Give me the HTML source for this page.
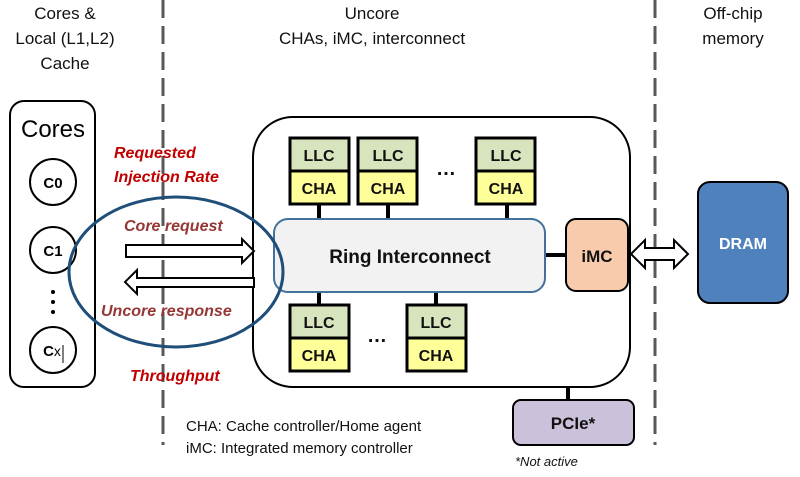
<!DOCTYPE html>
<html><head><style>
html,body{margin:0;padding:0;background:#fff;}
svg{display:block;}
text{font-family:"Liberation Sans","DejaVu Sans",sans-serif;}
</style></head><body>
<svg width="800" height="477" viewBox="0 0 800 477" xmlns="http://www.w3.org/2000/svg">
<line x1="163" y1="0" x2="163" y2="445" stroke="#595959" stroke-width="3" stroke-dasharray="18,8"/>
<line x1="655" y1="0" x2="655" y2="445" stroke="#595959" stroke-width="3" stroke-dasharray="18,8"/>
<g font-size="17" fill="#111" text-anchor="middle">
<text x="65" y="19">Cores &amp;</text>
<text x="65" y="44">Local (L1,L2)</text>
<text x="65" y="69">Cache</text>
<text x="372" y="19">Uncore</text>
<text x="372" y="44">CHAs, iMC, interconnect</text>
<text x="733" y="19">Off-chip</text>
<text x="733" y="44">memory</text>
</g>
<rect x="10" y="101" width="85" height="286" rx="14" fill="#fff" stroke="#000" stroke-width="2"/>
<text x="53" y="137" font-size="24" text-anchor="middle" fill="#000">Cores</text>
<g fill="#fff" stroke="#000" stroke-width="2">
<circle cx="53" cy="182" r="23"/>
<circle cx="53" cy="250" r="23"/>
<circle cx="53" cy="350" r="23"/>
</g>
<g font-size="15" font-weight="bold" text-anchor="middle" fill="#000">
<text x="53" y="188">C0</text>
<text x="53" y="256">C1</text>
<text x="52" y="356">C<tspan font-weight="normal" font-size="14">x</tspan></text>
</g>
<line x1="63" y1="345" x2="63" y2="363" stroke="#000" stroke-width="1"/>
<g fill="#000"><circle cx="53" cy="292" r="2"/><circle cx="53" cy="302" r="2"/><circle cx="53" cy="312" r="2"/></g>
<rect x="253" y="117" width="377" height="270" rx="40" fill="#fff" stroke="#000" stroke-width="2"/>
<g stroke="#000" stroke-width="4">
<line x1="319" y1="204" x2="319" y2="219"/>
<line x1="388" y1="204" x2="388" y2="219"/>
<line x1="507" y1="204" x2="507" y2="219"/>
<line x1="319" y1="292" x2="319" y2="305"/>
<line x1="436" y1="292" x2="436" y2="305"/>
<line x1="545" y1="255" x2="566" y2="255"/>
<line x1="568" y1="387" x2="568" y2="400"/>
</g>
<rect x="274" y="219" width="271" height="73" rx="14" fill="#f2f2f2" stroke="#41719c" stroke-width="2"/>
<text x="410" y="263" font-size="19" font-weight="bold" text-anchor="middle" fill="#111">Ring Interconnect</text>
<g stroke="#000" stroke-width="3">
<rect x="290" y="138" width="59" height="33" fill="#d7e4bd"/><rect x="290" y="171" width="59" height="33" fill="#ffff99"/>
<rect x="358" y="138" width="59" height="33" fill="#d7e4bd"/><rect x="358" y="171" width="59" height="33" fill="#ffff99"/>
<rect x="476" y="138" width="59" height="33" fill="#d7e4bd"/><rect x="476" y="171" width="59" height="33" fill="#ffff99"/>
<rect x="290" y="305" width="59" height="33" fill="#d7e4bd"/><rect x="290" y="338" width="59" height="33" fill="#ffff99"/>
<rect x="407" y="305" width="59" height="33" fill="#d7e4bd"/><rect x="407" y="338" width="59" height="33" fill="#ffff99"/>
</g>
<g font-size="16" font-weight="bold" text-anchor="middle" fill="#111">
<text x="319" y="161">LLC</text><text x="319" y="194">CHA</text>
<text x="388" y="161">LLC</text><text x="388" y="194">CHA</text>
<text x="506" y="161">LLC</text><text x="506" y="194">CHA</text>
<text x="319" y="328">LLC</text><text x="319" y="361">CHA</text>
<text x="436" y="328">LLC</text><text x="436" y="361">CHA</text>
<text x="446" y="175" font-size="20">…</text>
<text x="377" y="342" font-size="20">…</text>
</g>
<rect x="566" y="219" width="62" height="72" rx="10" fill="#f8cbad" stroke="#000" stroke-width="2"/>
<text x="597" y="262" font-size="17" font-weight="bold" text-anchor="middle" fill="#111">iMC</text>
<path d="M631,254 L645,240 L645,248 L674,248 L674,240 L688,254 L674,268 L674,260 L645,260 L645,268 Z" fill="#fff" stroke="#000" stroke-width="2"/>
<rect x="698" y="182" width="90" height="121" rx="12" fill="#4f81bd" stroke="#000" stroke-width="2"/>
<text x="743" y="249" font-size="16" font-weight="bold" text-anchor="middle" fill="#fff">DRAM</text>
<rect x="513" y="400" width="121" height="45" rx="8" fill="#ccc1da" stroke="#000" stroke-width="2"/>
<text x="573" y="429" font-size="17" font-weight="bold" text-anchor="middle" fill="#111">PCIe*</text>
<text x="515" y="466" font-size="13" font-style="italic" fill="#111">*Not active</text>
<text x="186" y="431" font-size="15" fill="#111">CHA: Cache controller/Home agent</text>
<text x="186" y="453" font-size="15" fill="#111">iMC: Integrated memory controller</text>
<path d="M126,245 L242,245 L242,239 L254,251 L242,263 L242,257 L126,257 Z" fill="#fff" stroke="#000" stroke-width="2"/>
<path d="M254,278 L137,278 L137,270 L125,282 L137,294 L137,287 L254,287 Z" fill="#fff" stroke="#000" stroke-width="2"/>
<ellipse cx="176" cy="272" rx="107" ry="75" fill="none" stroke="#1f4e79" stroke-width="3"/>
<g font-size="16" font-weight="bold" font-style="italic" fill="#c00000">
<text x="114" y="158">Requested</text>
<text x="114" y="182">Injection Rate</text>
<text x="130" y="381">Throughput</text>
</g>
<g font-size="16" font-weight="bold" font-style="italic" fill="#953735">
<text x="124" y="231">Core request</text>
<text x="101" y="316">Uncore response</text>
</g>
</svg>
</body></html>
